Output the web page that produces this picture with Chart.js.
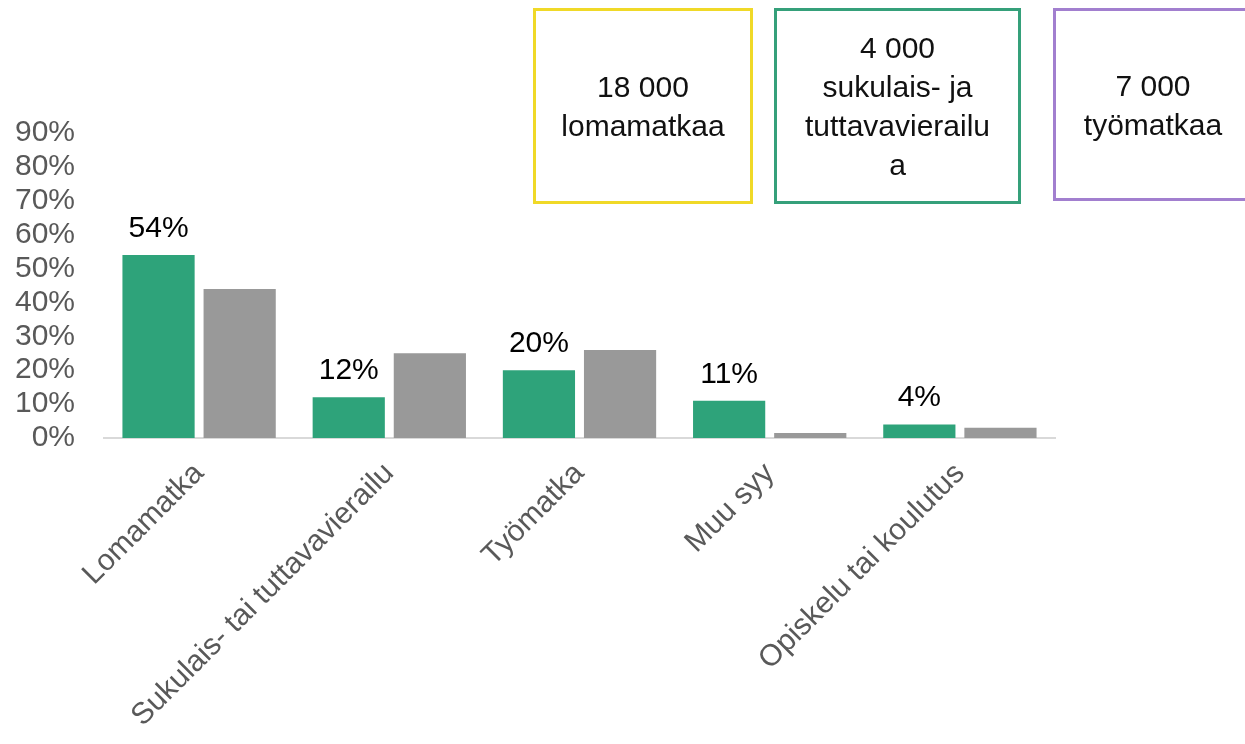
<!DOCTYPE html>
<html>
<head>
<meta charset="utf-8">
<script src="https://cdn.jsdelivr.net/npm/chart.js@4.4.1/dist/chart.umd.min.js"></script>
<style>
  html, body { margin: 0; padding: 0; background: #fff; }
  #wrap { position: relative; width: 1245px; height: 744px; overflow: hidden; }
  .box {
    position: absolute; box-sizing: border-box; border: 3px solid;
    display: flex; align-items: center; justify-content: center; text-align: center;
    font-family: "Liberation Sans", Arial, sans-serif; font-size: 30px; line-height: 39px; color: #111;
  }
</style>
</head>
<body>
<div id="wrap">
  <canvas id="chart" width="1245" height="744"></canvas>
  <div class="box" style="left:533px;top:8px;width:220px;height:196px;border-color:#f0d928;">18 000<br>lomamatkaa</div>
  <div class="box" style="left:774px;top:8px;width:247px;height:196px;border-color:#35a07a;">4 000<br>sukulais- ja<br>tuttavavierailu<br>a</div>
  <div class="box" style="left:1053px;top:8px;width:200px;height:193px;border-color:#a27fcf;">7 000<br>työmatkaa</div>
</div>
<script>
const categories = ['Lomamatka', 'Sukulais- tai tuttavavierailu', 'Työmatka', 'Muu syy', 'Opiskelu tai koulutus']
const greenValues = [54, 12, 20, 11, 4]
const grayValues = [44, 25, 26, 1.5, 3]
const yTicks = [0, 10, 20, 30, 40, 50, 60, 70, 80, 90]

const font = 'Liberation Sans, Arial, sans-serif'

// labels above the green bars only
const barLabels = {
  id: 'barLabels',
  afterDatasetsDraw(chart) {
    const ctx = chart.ctx
    const meta = chart.getDatasetMeta(0)
    ctx.save()
    ctx.font = '30px ' + font
    ctx.fillStyle = '#000'
    ctx.textAlign = 'center'
    ctx.textBaseline = 'alphabetic'
    meta.data.forEach((bar, i) => {
      ctx.fillText(greenValues[i] + '%', bar.x, bar.y - 18)
    })
    ctx.restore()
  }
}

new Chart(document.getElementById('chart'), {
  type: 'bar',
  data: {
    labels: categories,
    datasets: [
      { data: greenValues, backgroundColor: '#2ea37a', categoryPercentage: 0.853, barPercentage: 0.89 },
      { data: grayValues, backgroundColor: '#999999', categoryPercentage: 0.853, barPercentage: 0.89 }
    ]
  },
  options: {
    responsive: false,
    animation: false,
    layout: { padding: { top: 133, right: 190, left: 0, bottom: 0 } },
    plugins: { legend: { display: false }, tooltip: { enabled: false } },
    scales: {
      x: {
        grid: { display: false, drawTicks: false },
        border: { color: '#d9d9d9', width: 2 },
        ticks: {
          color: '#595959', font: { family: font, size: 30 },
          minRotation: 45, maxRotation: 45, padding: 18, autoSkip: false
        },
        afterFit(scale) { scale.height = 306 }
      },
      y: {
        min: 0, max: 90,
        grid: { display: false, drawTicks: false },
        border: { display: false },
        afterBuildTicks(scale) { scale.ticks = yTicks.map(v => ({ value: v })) },
        ticks: {
          color: '#595959', font: { family: font, size: 30 }, padding: 29, autoSkip: false,
          callback: v => v + '%'
        },
        afterFit(scale) { scale.width = 104 }
      }
    }
  },
  plugins: [barLabels]
})
</script>
</body>
</html>
